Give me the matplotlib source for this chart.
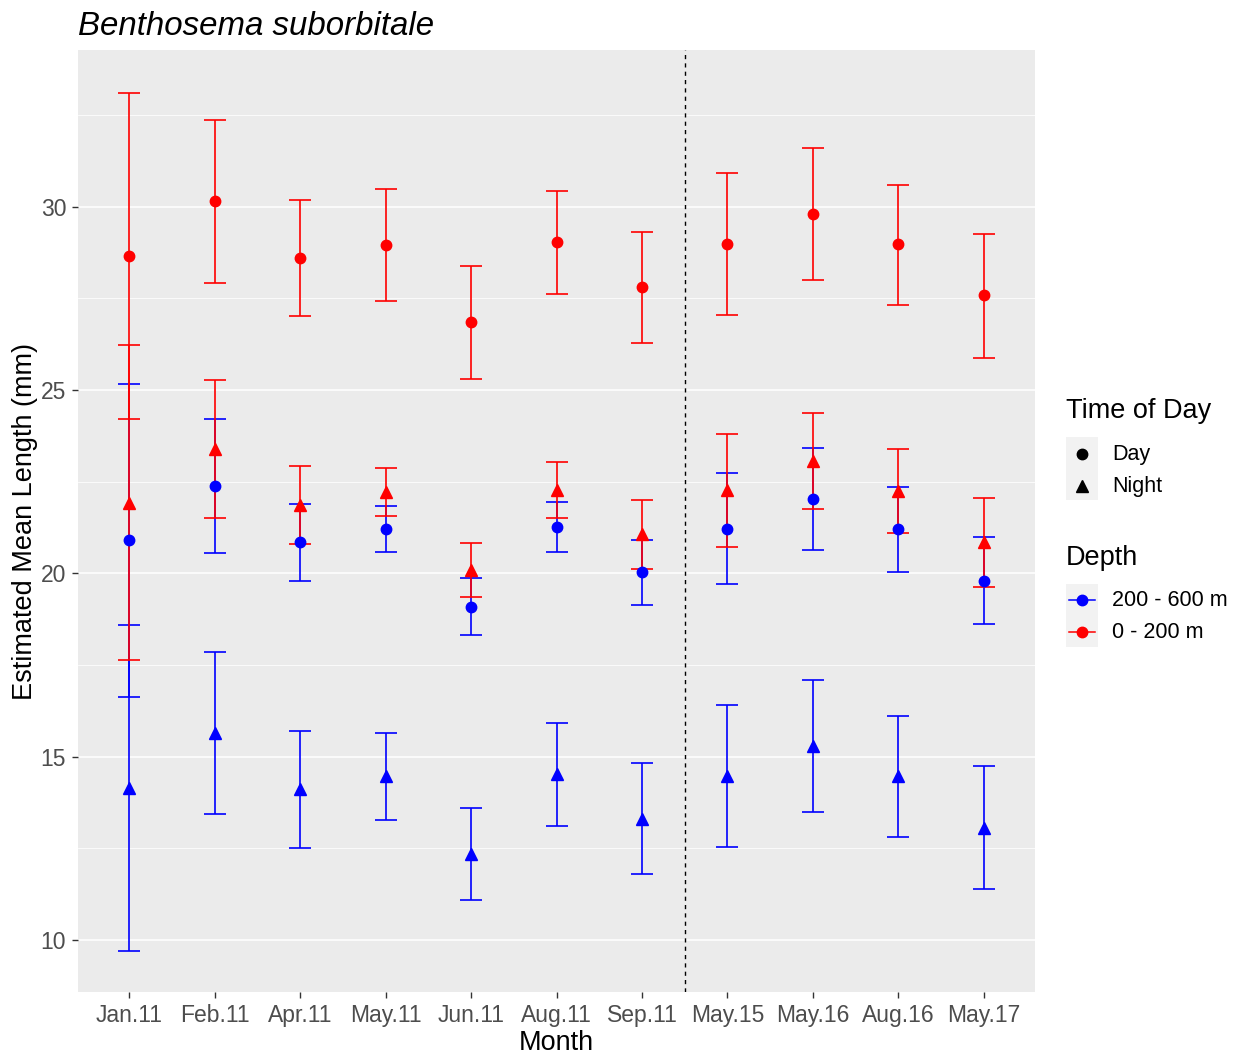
import matplotlib.pyplot as plt
from matplotlib.patches import Rectangle
from matplotlib.lines import Line2D

plt.rcParams['font.family'] = ['Liberation Sans', 'DejaVu Sans']

months = ['Jan.11', 'Feb.11', 'Apr.11', 'May.11', 'Jun.11', 'Aug.11', 'Sep.11',
          'May.15', 'May.16', 'Aug.16', 'May.17']

# 0 - 200 m, day
shallow_day = [28.66, 30.15, 28.60, 28.96, 26.85, 29.03, 27.80, 28.98, 29.80, 28.97, 27.58]
shallow_day_lo = [24.21, 27.92, 27.01, 27.43, 25.31, 27.62, 26.28, 27.05, 27.99, 27.31, 25.88]
shallow_day_hi = [33.11, 32.35, 30.18, 30.49, 28.37, 30.42, 29.31, 30.91, 31.59, 30.60, 29.25]

# 0 - 200 m, night
shallow_night = [21.93, 23.40, 21.87, 22.23, 20.10, 22.28, 21.07, 22.26, 23.06, 22.25, 20.85]
shallow_night_lo = [17.64, 21.52, 20.80, 21.57, 19.36, 21.52, 20.12, 20.73, 21.75, 21.11, 19.64]
shallow_night_hi = [26.22, 25.27, 22.93, 22.88, 20.84, 23.04, 22.01, 23.79, 24.37, 23.38, 22.05]

# 200 - 600 m, day
deep_day = [20.90, 22.38, 20.85, 21.20, 19.08, 21.26, 20.03, 21.22, 22.04, 21.20, 19.80]
deep_day_lo = [16.64, 20.55, 19.78, 20.58, 18.31, 20.58, 19.14, 19.71, 20.65, 20.05, 18.61]
deep_day_hi = [25.16, 24.21, 21.90, 21.83, 19.86, 21.94, 20.91, 22.73, 23.42, 22.36, 20.99]

# 200 - 600 m, night
deep_night = [14.15, 15.65, 14.11, 14.47, 12.35, 14.53, 13.31, 14.48, 15.30, 14.47, 13.07]
deep_night_lo = [9.70, 13.43, 12.52, 13.28, 11.09, 13.12, 11.80, 12.55, 13.50, 12.82, 11.38]
deep_night_hi = [18.60, 17.86, 15.70, 15.66, 13.61, 15.93, 14.83, 16.41, 17.09, 16.11, 14.75]

W, H = 1239, 1055
fig = plt.figure(figsize=(W / 100, H / 100), dpi=100)
ax = fig.add_axes([78 / W, 1 - 992 / H, 957 / W, 942 / H])
ax.set_facecolor('#EBEBEB')
for s in ax.spines.values():
    s.set_visible(False)

x = list(range(len(months)))


def draw_group(mean, lo, hi, color, marker, ms):
    yerr = [[m - l for m, l in zip(mean, lo)], [h - m for m, h in zip(mean, hi)]]
    ax.errorbar(x, mean, yerr=yerr, fmt='none', ecolor=color, elinewidth=1.2,
                capsize=8, capthick=1.2, zorder=3)
    ax.plot(x, mean, linestyle='none', marker=marker, color=color, markersize=ms, zorder=4)


draw_group(deep_day, deep_day_lo, deep_day_hi, 'blue', 'o', 7.5)
draw_group(deep_night, deep_night_lo, deep_night_hi, 'blue', '^', 8.5)
draw_group(shallow_day, shallow_day_lo, shallow_day_hi, 'red', 'o', 7.5)
draw_group(shallow_night, shallow_night_lo, shallow_night_hi, 'red', '^', 8.5)

# split between the 2011 surveys and the later ones
ax.axvline(months.index('Sep.11') + 0.5, color='black', linestyle=(0, (3, 3)),
           linewidth=1.0, zorder=2)

ax.set_xlim(-0.6, 10.6)
ax.set_ylim(8.585, 34.27)
ax.set_xticks(x)
ax.set_xticklabels(months)
ax.set_yticks([10, 15, 20, 25, 30])
ax.set_yticks([12.5, 17.5, 22.5, 27.5, 32.5], minor=True)
ax.yaxis.grid(True, which='major', color='white', linewidth=1.1)
ax.yaxis.grid(True, which='minor', color='white', linewidth=0.55)
ax.set_axisbelow(True)
ax.tick_params(axis='both', which='major', length=4.5, width=1, color='#333333',
               labelcolor='#4D4D4D', labelsize=16.5, pad=4)
ax.tick_params(axis='y', which='minor', length=0)

ax.set_xlabel('Month', fontsize=19.5, labelpad=2.5)
ax.set_ylabel('Estimated Mean Length (mm)', fontsize=19.5, labelpad=2)
ax.set_title('Benthosema suborbitale', fontsize=23.8, style='italic', loc='left', pad=11)

# legends, laid out in pixel units
lg = fig.add_axes([1040 / W, 1 - 660 / H, 199 / W, 280 / H])
lg.set_xlim(1040, 1239)
lg.set_ylim(660, 380)
lg.axis('off')

lg.text(1066, 411, 'Time of Day', fontsize=19.5, va='center', ha='left')
lg.add_patch(Rectangle((1066, 437), 31.5, 63, facecolor='#F2F2F2', edgecolor='none'))
lg.plot(1081.5, 454, marker='o', color='black', markersize=7.5)
lg.plot(1081.5, 486, marker='^', color='black', markersize=8.5)
lg.text(1112, 455, 'Day', fontsize=15.5, va='center', ha='left')
lg.text(1112, 487, 'Night', fontsize=15.5, va='center', ha='left')

lg.text(1066, 558, 'Depth', fontsize=19.5, va='center', ha='left')
lg.add_patch(Rectangle((1066, 584), 31.5, 63, facecolor='#F2F2F2', edgecolor='none'))
for yy, col, lab in [(600, 'blue', '200 - 600 m'), (632, 'red', '0 - 200 m')]:
    lg.add_line(Line2D([1069, 1095], [yy, yy], color=col, linewidth=1.1))
    lg.plot(1082, yy, marker='o', color=col, markersize=7.5)
    lg.text(1112, yy + 1, lab, fontsize=15.5, va='center', ha='left')

fig.savefig('out.png', dpi=100)
